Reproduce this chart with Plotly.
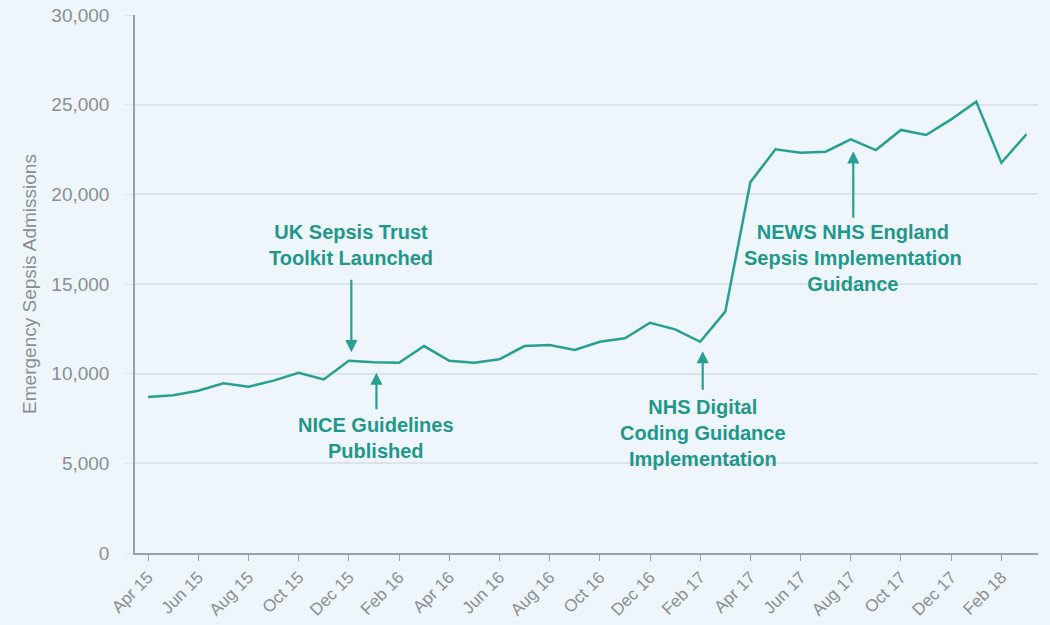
import plotly.graph_objects as go

# Monthly emergency sepsis admissions, April 2015 – March 2018
months = [
    "Apr 15", "May 15", "Jun 15", "Jul 15", "Aug 15", "Sep 15", "Oct 15", "Nov 15",
    "Dec 15", "Jan 16", "Feb 16", "Mar 16", "Apr 16", "May 16", "Jun 16", "Jul 16",
    "Aug 16", "Sep 16", "Oct 16", "Nov 16", "Dec 16", "Jan 17", "Feb 17", "Mar 17",
    "Apr 17", "May 17", "Jun 17", "Jul 17", "Aug 17", "Sep 17", "Oct 17", "Nov 17",
    "Dec 17", "Jan 18", "Feb 18", "Mar 18",
]
admissions = [
    8700, 8800, 9050, 9460, 9270, 9610, 10050, 9680,
    10720, 10630, 10610, 11540, 10720, 10610, 10800, 11540,
    11600, 11320, 11780, 11970, 12840, 12470, 11780, 13460,
    20680, 22510, 22320, 22380, 23070, 22470, 23590, 23310,
    24180, 25170, 21760, 23350,
]

# Policy milestones: month, label, arrow head value, arrow tail offset (px), label value
events_month = ["Dec 15", "Jan 16", "Feb 17", "Aug 17"]
events_text = [
    "UK Sepsis Trust<br>Toolkit Launched",
    "NICE Guidelines<br>Published",
    "NHS Digital<br>Coding Guidance<br>Implementation",
    "NEWS NHS England<br>Sepsis Implementation<br>Guidance",
]
events_head = [11200, 10050, 11250, 22400]
events_tail_px = [-74, 38, 40, 68]
events_text_y = [17200, 6400, 6700, 16430]

TEAL = "#27a093"
TEXT_TEAL = "#1f988b"
GREY = "#8a8f93"
BG = "#eef5fb"

x_idx = list(range(len(months)))

fig = go.Figure()
fig.add_trace(go.Scatter(
    x=x_idx, y=admissions, mode="lines",
    line=dict(color=TEAL, width=2.5),
    hoverinfo="skip",
))

for m, txt, head, tail, ty in zip(events_month, events_text, events_head,
                                  events_tail_px, events_text_y):
    xi = months.index(m) + 0.1
    fig.add_annotation(
        x=xi, y=head, xref="x", yref="y", text="",
        showarrow=True, ax=0, ay=tail, axref="pixel", ayref="pixel",
        arrowhead=2, arrowsize=1.1, arrowwidth=2.2, arrowcolor=TEAL,
    )
    fig.add_annotation(
        x=xi, y=ty, xref="x", yref="y", text="<b>" + txt + "</b>",
        showarrow=False, align="center",
        font=dict(family="Liberation Sans, Arial", size=20, color=TEXT_TEAL),
    )

fig.update_layout(
    width=1050, height=625,
    margin=dict(l=135, r=12, t=15, b=72),
    paper_bgcolor=BG, plot_bgcolor=BG,
    showlegend=False,
    font=dict(family="Liberation Sans, Arial", color=GREY),
)
fig.update_xaxes(
    range=[-0.52, 35.46], automargin=False,
    tickmode="array", tickvals=x_idx[::2], ticktext=months[::2],
    tickangle=-45, tickfont=dict(size=17, color=GREY),
    ticks="outside", ticklen=6, tickcolor="#9aa0a4",
    showline=True, linecolor="#9aa0a4", linewidth=1.5,
    showgrid=False, zeroline=False,
)
fig.update_yaxes(
    range=[0, 30000], automargin=False,
    tickvals=[0, 5000, 10000, 15000, 20000, 25000, 30000],
    tickformat=",", tickfont=dict(size=19, color=GREY),
    ticks="outside", ticklen=8, tickcolor="#dde3e8",
    ticklabelstandoff=12,
    showgrid=True, gridcolor="#dde3e8", gridwidth=1.5,
    showline=True, linecolor="#9aa0a4", linewidth=1.5,
    zeroline=False,
    title=dict(text="Emergency Sepsis Admissions",
               font=dict(size=19, color=GREY), standoff=10),
)

fig.write_html("out.html")
